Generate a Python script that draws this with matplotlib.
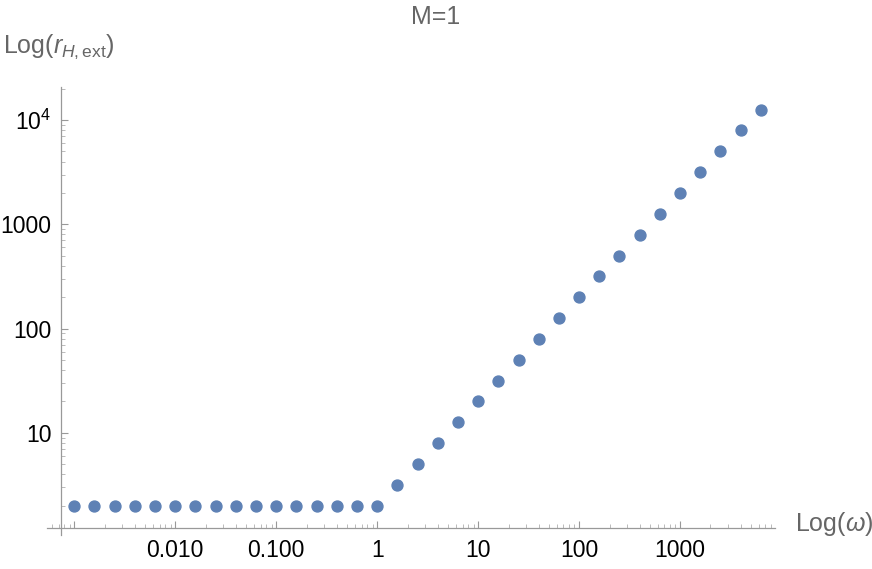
import numpy as np
import matplotlib.pyplot as plt
from matplotlib.ticker import LogLocator, NullFormatter

plt.rcParams['font.family'] = ['Liberation Sans', 'DejaVu Sans']
plt.rcParams['mathtext.fontset'] = 'custom'
plt.rcParams['mathtext.rm'] = 'Liberation Sans'
plt.rcParams['mathtext.it'] = 'Liberation Sans:italic'

# ======= data =======
omega = [0.001, 0.00158, 0.00251, 0.00398, 0.00631,
         0.01, 0.0158, 0.0251, 0.0398, 0.0631,
         0.1, 0.158, 0.251, 0.398, 0.631,
         1.0, 1.58, 2.51, 3.98, 6.31,
         10, 15.8, 25.1, 39.8, 63.1,
         100, 158, 251, 398, 631,
         1000, 1585, 2512, 3981, 6310]
r_ext = [2, 2, 2, 2, 2,
         2, 2, 2, 2, 2,
         2, 2, 2, 2, 2,
         2, 3.17, 5.02, 7.96, 12.6,
         20, 31.7, 50.2, 79.6, 126,
         200, 317, 502, 796, 1262,
         2000, 3170, 5024, 7962, 12620]

xticks = [0.001, 0.01, 0.1, 1, 10, 100, 1000]
xlabels = ["", "0.010", "0.100", "1", "10", "100", "1000"]
yticks = [10, 100, 1000, 10000]
ylabels = ["10", "100", "1000", r"$\mathregular{10^4}$"]

axis_col = "#999999"
text_col = "#666666"

fig = plt.figure(figsize=(8.72, 5.69), dpi=100)
ax = fig.add_axes([47 / 872, 1 - 535 / 569, 728 / 872, 448 / 569])

ax.scatter(omega, r_ext, s=62, color="#5E81B5", zorder=3, clip_on=False)

ax.set_xscale("log")
ax.set_yscale("log")
ax.set_xlim(10 ** -3.27, 10 ** 3.94)
ax.set_ylim(10 ** 0.02, 10 ** 4.317)

for s in ["top", "right"]:
    ax.spines[s].set_visible(False)
ax.spines["left"].set_position(("data", 10 ** -3.13))
ax.spines["bottom"].set_position(("data", 10 ** 0.089))
for s in ["left", "bottom"]:
    ax.spines[s].set_color(axis_col)
    ax.spines[s].set_linewidth(0.9)

ax.set_xticks(xticks, xlabels)
ax.set_yticks(yticks, ylabels)
ax.xaxis.set_minor_locator(LogLocator(base=10, subs=np.arange(2, 10), numticks=20))
ax.yaxis.set_minor_locator(LogLocator(base=10, subs=np.arange(2, 10), numticks=20))
ax.xaxis.set_minor_formatter(NullFormatter())
ax.yaxis.set_minor_formatter(NullFormatter())
ax.tick_params(which="major", direction="in", length=5, width=0.8, color=axis_col,
               labelsize=16.5, labelcolor="black", pad=8)
ax.tick_params(which="minor", direction="in", length=3, width=0.6, color="#b0b0b0")
ax.tick_params(axis="y", which="major", pad=7)

fig.text(436 / 872, 1 - 17 / 569, "M=1", ha="center", va="center", fontsize=18, color=text_col)
fig.text(3 / 872, 1 - 47 / 569, r"Log($\mathit{r}_{\mathit{H},\mathrm{ext}}$)",
         ha="left", va="center", fontsize=18, color=text_col)
fig.text(795 / 872, 1 - 524 / 569, r"Log($\mathit{\omega}$)",
         ha="left", va="center", fontsize=18, color=text_col)

plt.savefig("out.png", dpi=100)
